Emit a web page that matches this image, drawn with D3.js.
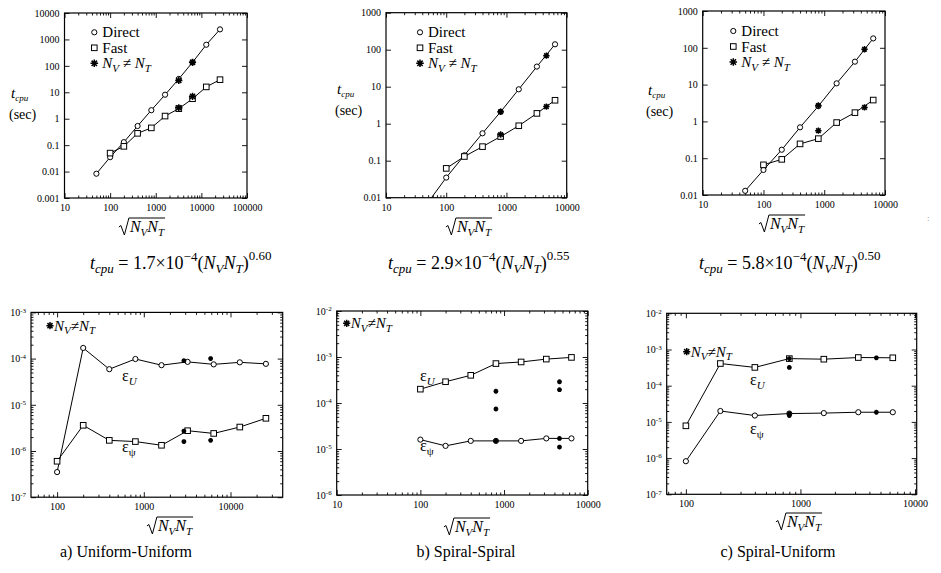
<!DOCTYPE html>
<html>
<head>
<meta charset="utf-8">
<script src="https://cdn.jsdelivr.net/npm/d3@7"></script>
<style>
  body { margin: 0; background: #fff; }
</style>
</head>
<body>
<svg id="chart"></svg>
<script>
const width = 941;
const height = 573;
const FONT = "Liberation Serif";
const svg = d3.select("#chart").attr("width", width).attr("height", height)
  .attr("font-family", FONT);

// ---------- top row : CPU time (sec) ----------
const nDirectA = [50, 100, 200, 400, 800, 1600, 3200, 6400, 12800, 25600];
const tDirectA = [0.0083, 0.035, 0.13, 0.53, 2.1, 8.1, 32, 136, 630, 2400];
const nFastA = [100, 200, 400, 800, 1600, 3200, 6400, 12800, 25600];
const tFastA = [0.05, 0.09, 0.28, 0.45, 1.26, 2.4, 5.7, 16, 30];
const nStarA = [3200, 6400, 3200, 6400];
const tStarA = [28, 136, 2.6, 7];

const nDirectB = [50, 100, 200, 400, 800, 1600, 3200, 6400];
const tDirectB = [0.0075, 0.035, 0.14, 0.55, 2.1, 8.5, 35, 140];
const nFastB = [100, 200, 400, 800, 1600, 3200, 6400];
const tFastB = [0.062, 0.13, 0.24, 0.45, 0.88, 1.9, 4.3];
const nStarB = [800, 4600, 800, 4600];
const tStarB = [2.1, 69, 0.51, 2.9];

const nDirectC = [50, 100, 200, 400, 800, 1600, 3200, 6400];
const tDirectC = [0.013, 0.048, 0.17, 0.69, 2.6, 10.8, 42, 180];
const nFastC = [100, 200, 400, 800, 1600, 3200, 6400];
const tFastC = [0.066, 0.093, 0.245, 0.34, 0.93, 1.73, 3.8];
const nStarC = [800, 4600, 800, 4600];
const tStarC = [2.7, 91, 0.56, 2.4];

// ---------- bottom row : errors ----------
const nErrA = [100, 200, 400, 800, 1600, 3200, 6400, 12800, 25600];
const eUA = [3.5e-7, 1.7e-4, 5.9e-5, 9.8e-5, 7.2e-5, 8.5e-5, 7.5e-5, 8.3e-5, 7.7e-5];
const ePsiA = [6e-7, 3.6e-6, 1.7e-6, 1.6e-6, 1.33e-6, 2.75e-6, 2.4e-6, 3.3e-6, 5.1e-6];
const nStarErrA = [2900, 5900, 2900, 2900, 5900];
const eStarErrA = [9e-5, 1e-4, 2.7e-6, 1.6e-6, 1.7e-6];

const nErrB = [100, 200, 400, 800, 1600, 3200, 6400];
const eUB = [2.0e-4, 2.9e-4, 4e-4, 7.2e-4, 7.8e-4, 9e-4, 9.8e-4];
const ePsiB = [1.6e-5, 1.17e-5, 1.5e-5, 1.5e-5, 1.5e-5, 1.7e-5, 1.7e-5];
const nStarErrB = [800, 800, 800, 4600, 4600, 4600, 4600];
const eStarErrB = [1.8e-4, 7.4e-5, 1.5e-5, 2.9e-4, 1.95e-4, 1.7e-5, 1.1e-5];

const nErrC = [100, 200, 400, 800, 1600, 3200, 6400];
const eUC = [7.8e-6, 4.1e-4, 3.2e-4, 5.6e-4, 5.4e-4, 6e-4, 5.9e-4];
const ePsiC = [8.2e-7, 2e-5, 1.5e-5, 1.7e-5, 1.75e-5, 1.85e-5, 1.85e-5];
const nStarErrC = [800, 800, 800, 800, 4600, 4600];
const eStarErrC = [5.6e-4, 3.2e-4, 1.7e-5, 1.5e-5, 5.9e-4, 1.85e-5];

// ---------- ticks ----------
const xTicks5 = [10, 100, 1000, 10000, 100000];
const xLabels5 = ["10", "100", "1000", "10000", "100000"];
const xTicks4 = [10, 100, 1000, 10000];
const xLabels4 = ["10", "100", "1000", "10000"];
const xTicks3 = [100, 1000, 10000];
const xLabels3 = ["100", "1000", "10000"];
const yTicksTopA = [0.001, 0.01, 0.1, 1, 10, 100, 1000, 10000];
const yLabelsTopA = ["0.001", "0.01", "0.1", "1", "10", "100", "1000", "10000"];
const yTicksTopBC = [0.01, 0.1, 1, 10, 100, 1000];
const yLabelsTopBC = ["0.01", "0.1", "1", "10", "100", "1000"];
const yTicksErrA = [1e-7, 1e-6, 1e-5, 1e-4, 1e-3];
const yExpErrA = ["-7", "-6", "-5", "-4", "-3"];
const yTicksErrB = [1e-6, 1e-5, 1e-4, 1e-3, 1e-2];
const yExpErrB = ["-6", "-5", "-4", "-3", "-2"];
const yTicksErrC = [1e-7, 1e-6, 1e-5, 1e-4, 1e-3, 1e-2];
const yExpErrC = ["-7", "-6", "-5", "-4", "-3", "-2"];

const panels = [
  { id: "A", frame: [64.5, 13, 247, 198], xDomain: [10, 1e5], yDomain: [1e-3, 1e4],
    xTicks: xTicks5, xLabels: xLabels5, yTicks: yTicksTopA, yLabels: yLabelsTopA, yMinor: false, star: 3.6,
    series: [{ n: nDirectA, v: tDirectA, mark: "circle" }, { n: nFastA, v: tFastA, mark: "square" }],
    stars: { n: nStarA, v: tStarA } },
  { id: "B", frame: [386, 12.7, 566.7, 197.7], xDomain: [10, 1e4], yDomain: [1e-2, 1e3],
    xTicks: xTicks4, xLabels: xLabels4, yTicks: yTicksTopBC, yLabels: yLabelsTopBC, yMinor: false, star: 3.2,
    series: [{ n: nDirectB, v: tDirectB, mark: "circle" }, { n: nFastB, v: tFastB, mark: "square" }],
    stars: { n: nStarB, v: tStarB } },
  { id: "C", frame: [702.7, 11, 885, 195], xDomain: [10, 1e4], yDomain: [1e-2, 1e3],
    xTicks: xTicks4, xLabels: xLabels4, yTicks: yTicksTopBC, yLabels: yLabelsTopBC, yMinor: false, star: 3.2,
    series: [{ n: nDirectC, v: tDirectC, mark: "circle" }, { n: nFastC, v: tFastC, mark: "square" }],
    stars: { n: nStarC, v: tStarC } },
  { id: "a", frame: [31, 312.4, 282.7, 497.2], xDomain: [50, 40000], yDomain: [1e-7, 1e-3],
    xTicks: xTicks3, xLabels: xLabels3, yTicks: yTicksErrA, yExp: yExpErrA, yMinor: true, star: 2.4,
    series: [{ n: nErrA, v: eUA, mark: "circle" }, { n: nErrA, v: ePsiA, mark: "square" }],
    stars: { n: nStarErrA, v: eStarErrA } },
  { id: "b", frame: [336.7, 311, 587.7, 495], xDomain: [10, 1e4], yDomain: [1e-6, 1e-2],
    xTicks: xTicks4, xLabels: xLabels4, yTicks: yTicksErrB, yExp: yExpErrB, yMinor: true, star: 2.4,
    series: [{ n: nErrB, v: eUB, mark: "square" }, { n: nErrB, v: ePsiB, mark: "circle" }],
    stars: { n: nStarErrB, v: eStarErrB } },
  { id: "c", frame: [666.7, 313.3, 916.7, 494.3], xDomain: [68, 10350], yDomain: [1e-7, 1e-2],
    xTicks: xTicks3, xLabels: xLabels3, yTicks: yTicksErrC, yExp: yExpErrC, yMinor: true, star: 2.4,
    series: [{ n: nErrC, v: eUC, mark: "square" }, { n: nErrC, v: ePsiC, mark: "circle" }],
    stars: { n: nStarErrC, v: eStarErrC } }
];

function minorTicks(domain) {
  const out = [];
  const k0 = Math.floor(Math.log10(domain[0]));
  const k1 = Math.ceil(Math.log10(domain[1]));
  for (let k = k0; k <= k1; k++) {
    for (let m = 2; m < 10; m++) {
      const v = m * Math.pow(10, k);
      if (v > domain[0] && v < domain[1]) out.push(v);
    }
  }
  return out;
}

function starPath(r) {
  const d = r * Math.SQRT1_2;
  return `M${-r},0L${r},0M0,${-r}L0,${r}M${-d},${-d}L${d},${d}M${-d},${d}L${d},${-d}`;
}

function drawMark(g, kind, x, y, r) {
  if (kind === "circle") {
    g.append("circle").attr("cx", x).attr("cy", y).attr("r", 2.6)
      .attr("fill", "#fff").attr("stroke", "#000").attr("stroke-width", 1);
  } else if (kind === "square") {
    g.append("rect").attr("x", x - 2.8).attr("y", y - 2.8).attr("width", 5.6).attr("height", 5.6)
      .attr("fill", "#fff").attr("stroke", "#000").attr("stroke-width", 1);
  } else {
    g.append("path").attr("transform", `translate(${x},${y})`).attr("d", starPath(r || 3.6))
      .attr("stroke", "#000").attr("stroke-width", 1.5).attr("fill", "none");
  }
}

function styleAxis(sel) {
  sel.attr("font-family", FONT);
  sel.select(".domain").remove();
  sel.selectAll(".tick line").attr("stroke", "#000").attr("stroke-width", 0.9);
  sel.selectAll(".tick text").attr("font-size", 10).attr("fill", "#000");
}

panels.forEach(p => {
  const [x0, y0, x1, y1] = p.frame;
  const w = x1 - x0, h = y1 - y0;
  const x = d3.scaleLog().domain(p.xDomain).range([0, w]);
  const y = d3.scaleLog().domain(p.yDomain).range([h, 0]);
  const g = svg.append("g").attr("transform", `translate(${x0},${y0})`);

  // axes: labelled bottom/left, mirrored top/right
  const xMin = minorTicks(p.xDomain);
  const yMin = minorTicks(p.yDomain);
  g.append("g").attr("transform", `translate(0,${h})`)
    .call(d3.axisBottom(x).tickValues(p.xTicks).tickSize(-5).tickPadding(6)
      .tickFormat((d, i) => p.xLabels[i])).call(styleAxis);
  g.append("g").attr("transform", `translate(0,${h})`)
    .call(d3.axisBottom(x).tickValues(xMin).tickSize(-2.5).tickFormat("")).call(styleAxis);
  g.append("g")
    .call(d3.axisTop(x).tickValues(p.xTicks).tickSize(-5).tickFormat("")).call(styleAxis);
  g.append("g")
    .call(d3.axisTop(x).tickValues(xMin).tickSize(-2.5).tickFormat("")).call(styleAxis);

  const left = g.append("g")
    .call(d3.axisLeft(y).tickValues(p.yTicks).tickSize(-5).tickPadding(5)
      .tickFormat((d, i) => p.yLabels ? p.yLabels[i] : "10")).call(styleAxis);
  if (p.yExp) {
    left.selectAll(".tick text").each(function (d, i) {
      d3.select(this).append("tspan").attr("dy", "-0.5em").attr("font-size", 7).text(p.yExp[i]);
    });
  }
  g.append("g").attr("transform", `translate(${w},0)`)
    .call(d3.axisRight(y).tickValues(p.yTicks).tickSize(-5).tickFormat("")).call(styleAxis);
  if (p.yMinor) {
    g.append("g").call(d3.axisLeft(y).tickValues(yMin).tickSize(-2.5).tickFormat("")).call(styleAxis);
    g.append("g").attr("transform", `translate(${w},0)`)
      .call(d3.axisRight(y).tickValues(yMin).tickSize(-2.5).tickFormat("")).call(styleAxis);
  }

  g.append("rect").attr("width", w).attr("height", h)
    .attr("fill", "none").attr("stroke", "#000").attr("stroke-width", 1.2);

  // data
  svg.append("clipPath").attr("id", "clip" + p.id)
    .append("rect").attr("width", w).attr("height", h);
  const plot = g.append("g").attr("clip-path", `url(#clip${p.id})`);
  const line = d3.line().x(d => x(d[0])).y(d => y(d[1]));
  p.series.forEach(s => {
    const pts = s.n.map((n, i) => [n, s.v[i]]);
    plot.append("path").attr("d", line(pts)).attr("fill", "none")
      .attr("stroke", "#000").attr("stroke-width", 1);
  });
  p.series.forEach(s => {
    s.n.forEach((n, i) => drawMark(plot, s.mark, x(n), y(s.v[i])));
  });
  p.stars.n.forEach((n, i) => drawMark(plot, "star", x(n), y(p.stars.v[i]), p.star));
});

// ---------- text helpers ----------
function addText(x, y, fs) {
  return svg.append("text").attr("x", x).attr("y", y)
    .attr("font-family", FONT).attr("font-size", fs).attr("fill", "#000");
}
function ts(t, txt, opt) {
  const s = t.append("tspan").attr("fill", "#000").text(txt);
  if (opt && opt.it) s.attr("font-style", "italic");
  if (opt && opt.fs) s.attr("font-size", opt.fs);
  if (opt && opt.dy) s.attr("dy", opt.dy);
  return s;
}

function neq(t, fs, gap) {
  const sub = Math.round(fs * 0.7);
  ts(t, "N", { it: 1 });
  ts(t, "V", { it: 1, fs: sub, dy: fs * 0.25 });
  ts(t, gap ? " \u2260 " : "\u2260", { dy: -fs * 0.25 });
  ts(t, "N", { it: 1 });
  ts(t, "T", { it: 1, fs: sub, dy: fs * 0.25 });
}

function topLegend(mx, my) {
  const fs = 15;
  drawMark(svg, "circle", mx, my);
  drawMark(svg, "square", mx, my + 15.5);
  drawMark(svg, "star", mx, my + 31, 3.8);
  addText(mx + 8, my + 5, fs).text("Direct");
  addText(mx + 8, my + 20.5, fs).text("Fast");
  neq(addText(mx + 8, my + 36, fs), fs, true);
}
topLegend(94.3, 32.3);
topLegend(420, 32.3);
topLegend(733.3, 31);

function bottomLegend(mx, my) {
  drawMark(svg, "star", mx, my, 3.6);
  neq(addText(mx + 4, my + 5, 15), 15, false);
}
bottomLegend(50, 325.7);
bottomLegend(346.7, 323.3);
bottomLegend(686.7, 351.7);

function yLabel(x, y) {
  const t = addText(x, y, 15);
  ts(t, "t", { it: 1 });
  ts(t, "cpu", { it: 1, fs: 9, dy: 3 });
  addText(x - 2, y + 21, 14).text("(sec)");
}
yLabel(11, 98);
yLabel(337, 94);
yLabel(648, 95);

function sqrtLabel(cx, by) {
  const t = addText(0, by, 16);
  ts(t, "N", { it: 1 });
  ts(t, "V", { it: 1, fs: 11, dy: 4 });
  ts(t, "N", { it: 1, dy: -4 });
  ts(t, "T", { it: 1, fs: 11, dy: 4 });
  const len = t.node().getComputedTextLength();
  const xs = cx - len / 2 + 4;
  t.attr("x", xs);
  svg.append("path")
    .attr("d", `M${xs - 11},${by - 5}L${xs - 9},${by - 6.5}L${xs - 5.5},${by + 3}L${xs - 1},${by - 14}L${xs + len + 1},${by - 14}`)
    .attr("fill", "none").attr("stroke", "#000").attr("stroke-width", 1);
}
sqrtLabel(143, 232);
sqrtLabel(470, 232);
sqrtLabel(783, 229);
sqrtLabel(171, 531);
sqrtLabel(468, 532);
sqrtLabel(800, 527);

function epsLabel(x, y, sub) {
  const t = addText(x, y, 16);
  ts(t, "\u03b5");
  ts(t, sub, { it: sub === "U", fs: 11, dy: 4 });
}
epsLabel(122, 381, "U");
epsLabel(122, 452, "\u03c8");
epsLabel(420, 381, "U");
epsLabel(420, 451, "\u03c8");
epsLabel(750, 385, "U");
epsLabel(750, 434, "\u03c8");

function formula(x, y, coef, expo) {
  const t = addText(x, y, 18);
  ts(t, "t", { it: 1 });
  ts(t, "cpu", { it: 1, fs: 13, dy: 4 });
  ts(t, " = " + coef + "\u00d710", { dy: -4 });
  ts(t, "\u22124", { fs: 13, dy: -8 });
  ts(t, "(", { dy: 8 });
  ts(t, "N", { it: 1 });
  ts(t, "V", { it: 1, fs: 13, dy: 4 });
  ts(t, "N", { it: 1, dy: -4 });
  ts(t, "T", { it: 1, fs: 13, dy: 4 });
  ts(t, ")", { dy: -4 });
  ts(t, expo, { fs: 13, dy: -9 });
}
formula(90, 269, "1.7", "0.60");
formula(388, 269, "2.9", "0.55");
formula(699, 269, "5.8", "0.50");

const captions = ["a) Uniform-Uniform", "b) Spiral-Spiral", "c) Spiral-Uniform"];
const captionX = [126, 466, 778];
captions.forEach((c, i) => {
  addText(captionX[i], 557, 16).attr("text-anchor", "middle").text(c);
});

addText(927, 221, 9).attr("fill", "#888").text(":");
</script>
</body>
</html>
